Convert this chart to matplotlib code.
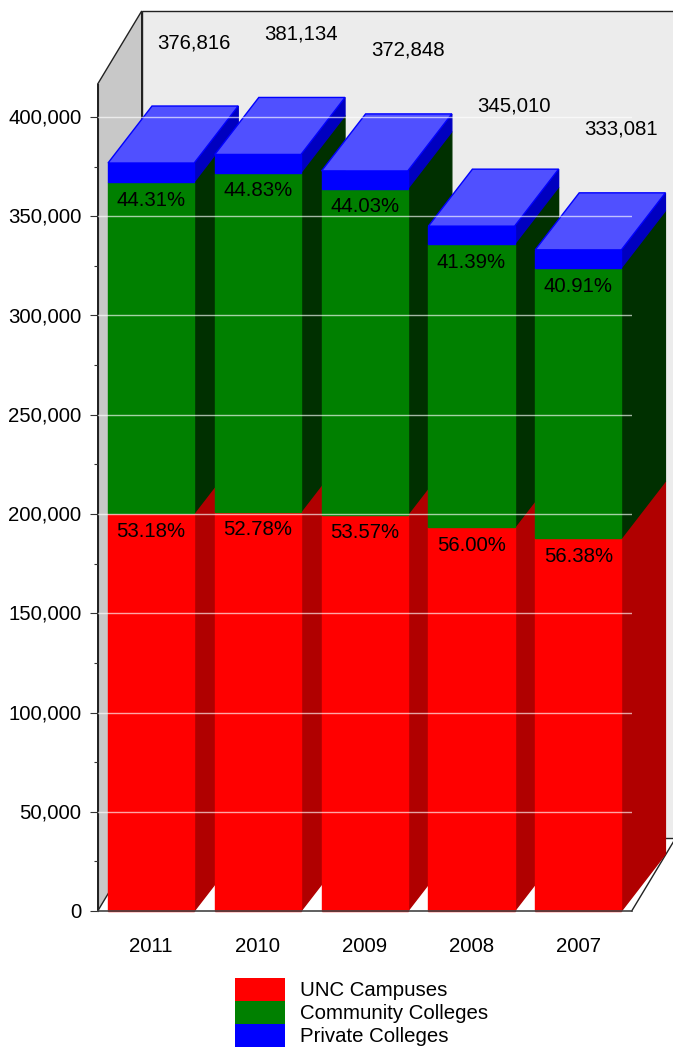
import matplotlib
matplotlib.use("Agg")
import matplotlib.pyplot as plt
from matplotlib.patches import Polygon, Patch
from matplotlib.transforms import ScaledTranslation
import numpy as np

plt.rcParams['font.family'] = ['Liberation Sans', 'DejaVu Sans']

years = ['2011', '2010', '2009', '2008', '2007']
totals = [376816, 381134, 372848, 345010, 333081]
unc_pct = [53.18, 52.78, 53.57, 56.00, 56.38]
cc_pct = [44.31, 44.83, 44.03, 41.39, 40.91]
series_names = ['UNC Campuses', 'Community Colleges', 'Private Colleges']

W, H = 673, 1047
FS = 14.7
fig = plt.figure(figsize=(W / 100, H / 100), dpi=100)
ax = fig.add_axes([97.7 / W, (H - 911) / H, 534 / W, 827 / H])
ax.patch.set_visible(False)
ymax = 827 / 1.985 * 1000
ax.set_xlim(-0.5, 4.5)
ax.set_ylim(0, ymax)

px_x = 1 / 106.8
px_y = 1000 / 1.985
bar_w = 86.2 * px_x
ddx, ddy = 44 * px_x, 57 * px_y
wdx, wdy = 44 * px_x, 73 * px_y

def poly(pts, fc, ec=None, z=2, lw=1.0):
    ax.add_patch(Polygon(pts, closed=True, facecolor=fc, edgecolor=ec if ec else fc,
                         linewidth=lw, zorder=z, clip_on=False))

# walls
x0, x1 = -0.5, 4.5
ytop = ymax + wdy
poly([(x0 + wdx, wdy), (x1 + wdx, wdy), (x1 + wdx, ytop), (x0 + wdx, ytop)], '#ececec', '#222222', z=0.5)
poly([(x0, 0), (x0 + wdx, wdy), (x0 + wdx, ytop), (x0, ymax)], '#c8c8c8', '#222222', z=0.6)
ax.plot([x1, x1 + wdx], [0, wdy], color='#222222', lw=1, zorder=0.7, clip_on=False)

face = ['#ff0000', '#008000', '#0000ff']
side = ['#b00000', '#003000', '#0000c0']

for i, yr in enumerate(years):
    unc = totals[i] * unc_pct[i] / 100
    cc = totals[i] * cc_pct[i] / 100
    stops = [0, unc, unc + cc, totals[i]]
    l, r = i - bar_w / 2, i + bar_w / 2
    z = 2 + i * 0.1
    for k in range(3):
        b, t = stops[k], stops[k + 1]
        poly([(r, b), (r + ddx, b + ddy), (r + ddx, t + ddy), (r, t)], side[k], z=z)
        poly([(l, b), (r, b), (r, t), (l, t)], face[k], z=z + 0.01)
    poly([(l, stops[3]), (r, stops[3]), (r + ddx, stops[3] + ddy), (l + ddx, stops[3] + ddy)],
         '#5050ff', '#0000ff', z=z + 0.02)
    for s, v in ((stops[1], unc_pct[i]), (stops[2], cc_pct[i])):
        ax.annotate(f'{v:.2f}%', (i, s), xytext=(0, -18.3 * 0.72), textcoords='offset points',
                    ha='center', va='center', fontsize=FS, color='black', zorder=6)
    ax.annotate(f'{totals[i]:,}', (i + ddx, totals[i] + ddy), xytext=(-1.2 * 0.72, 63.5 * 0.72),
                textcoords='offset points', ha='center', va='center', fontsize=FS,
                color='black', zorder=6, annotation_clip=False)

# gridlines
majors = np.arange(0, 400001, 50000)
minors = np.arange(25000, 400000, 50000)
for m in majors[1:]:
    ax.axhline(m, color='white', alpha=0.65, lw=1.0, zorder=5)

ax.set_yticks(majors)
ax.set_yticklabels([f'{m:,}' for m in majors], fontsize=FS)
ax.set_yticks(minors, minor=True)
ax.tick_params(axis='y', which='major', length=8 * 0.72, width=0.8, pad=6, color='#333333')
ax.tick_params(axis='y', which='minor', length=4 * 0.72, width=0.8, color='#333333')
ax.set_xticks(range(5))
ax.set_xticklabels(years, fontsize=FS)
ax.tick_params(axis='x', length=0, pad=18.5)
shift = ScaledTranslation(0, 0.8 / 100, fig.dpi_scale_trans)
for lab in ax.get_yticklabels():
    lab.set_transform(lab.get_transform() + shift)
for sp in ('top', 'right'):
    ax.spines[sp].set_visible(False)
ax.spines['left'].set_color('#222222')
ax.spines['left'].set_zorder(1)
ax.spines['bottom'].set_color('#444444')
ax.spines['bottom'].set_linewidth(1.2)
ax.spines['bottom'].set_zorder(7)

handles = [Patch(facecolor=c, edgecolor='none') for c in face]
leg = fig.legend(handles, series_names, loc='lower left', frameon=False, fontsize=FS,
                 bbox_to_anchor=(235 / W, 0 / H), bbox_transform=fig.transFigure,
                 borderpad=0, borderaxespad=0, labelspacing=0, handlelength=2.45,
                 handleheight=1.356, handletextpad=0.735)

fig.savefig('out.png', dpi=100, facecolor='white')
